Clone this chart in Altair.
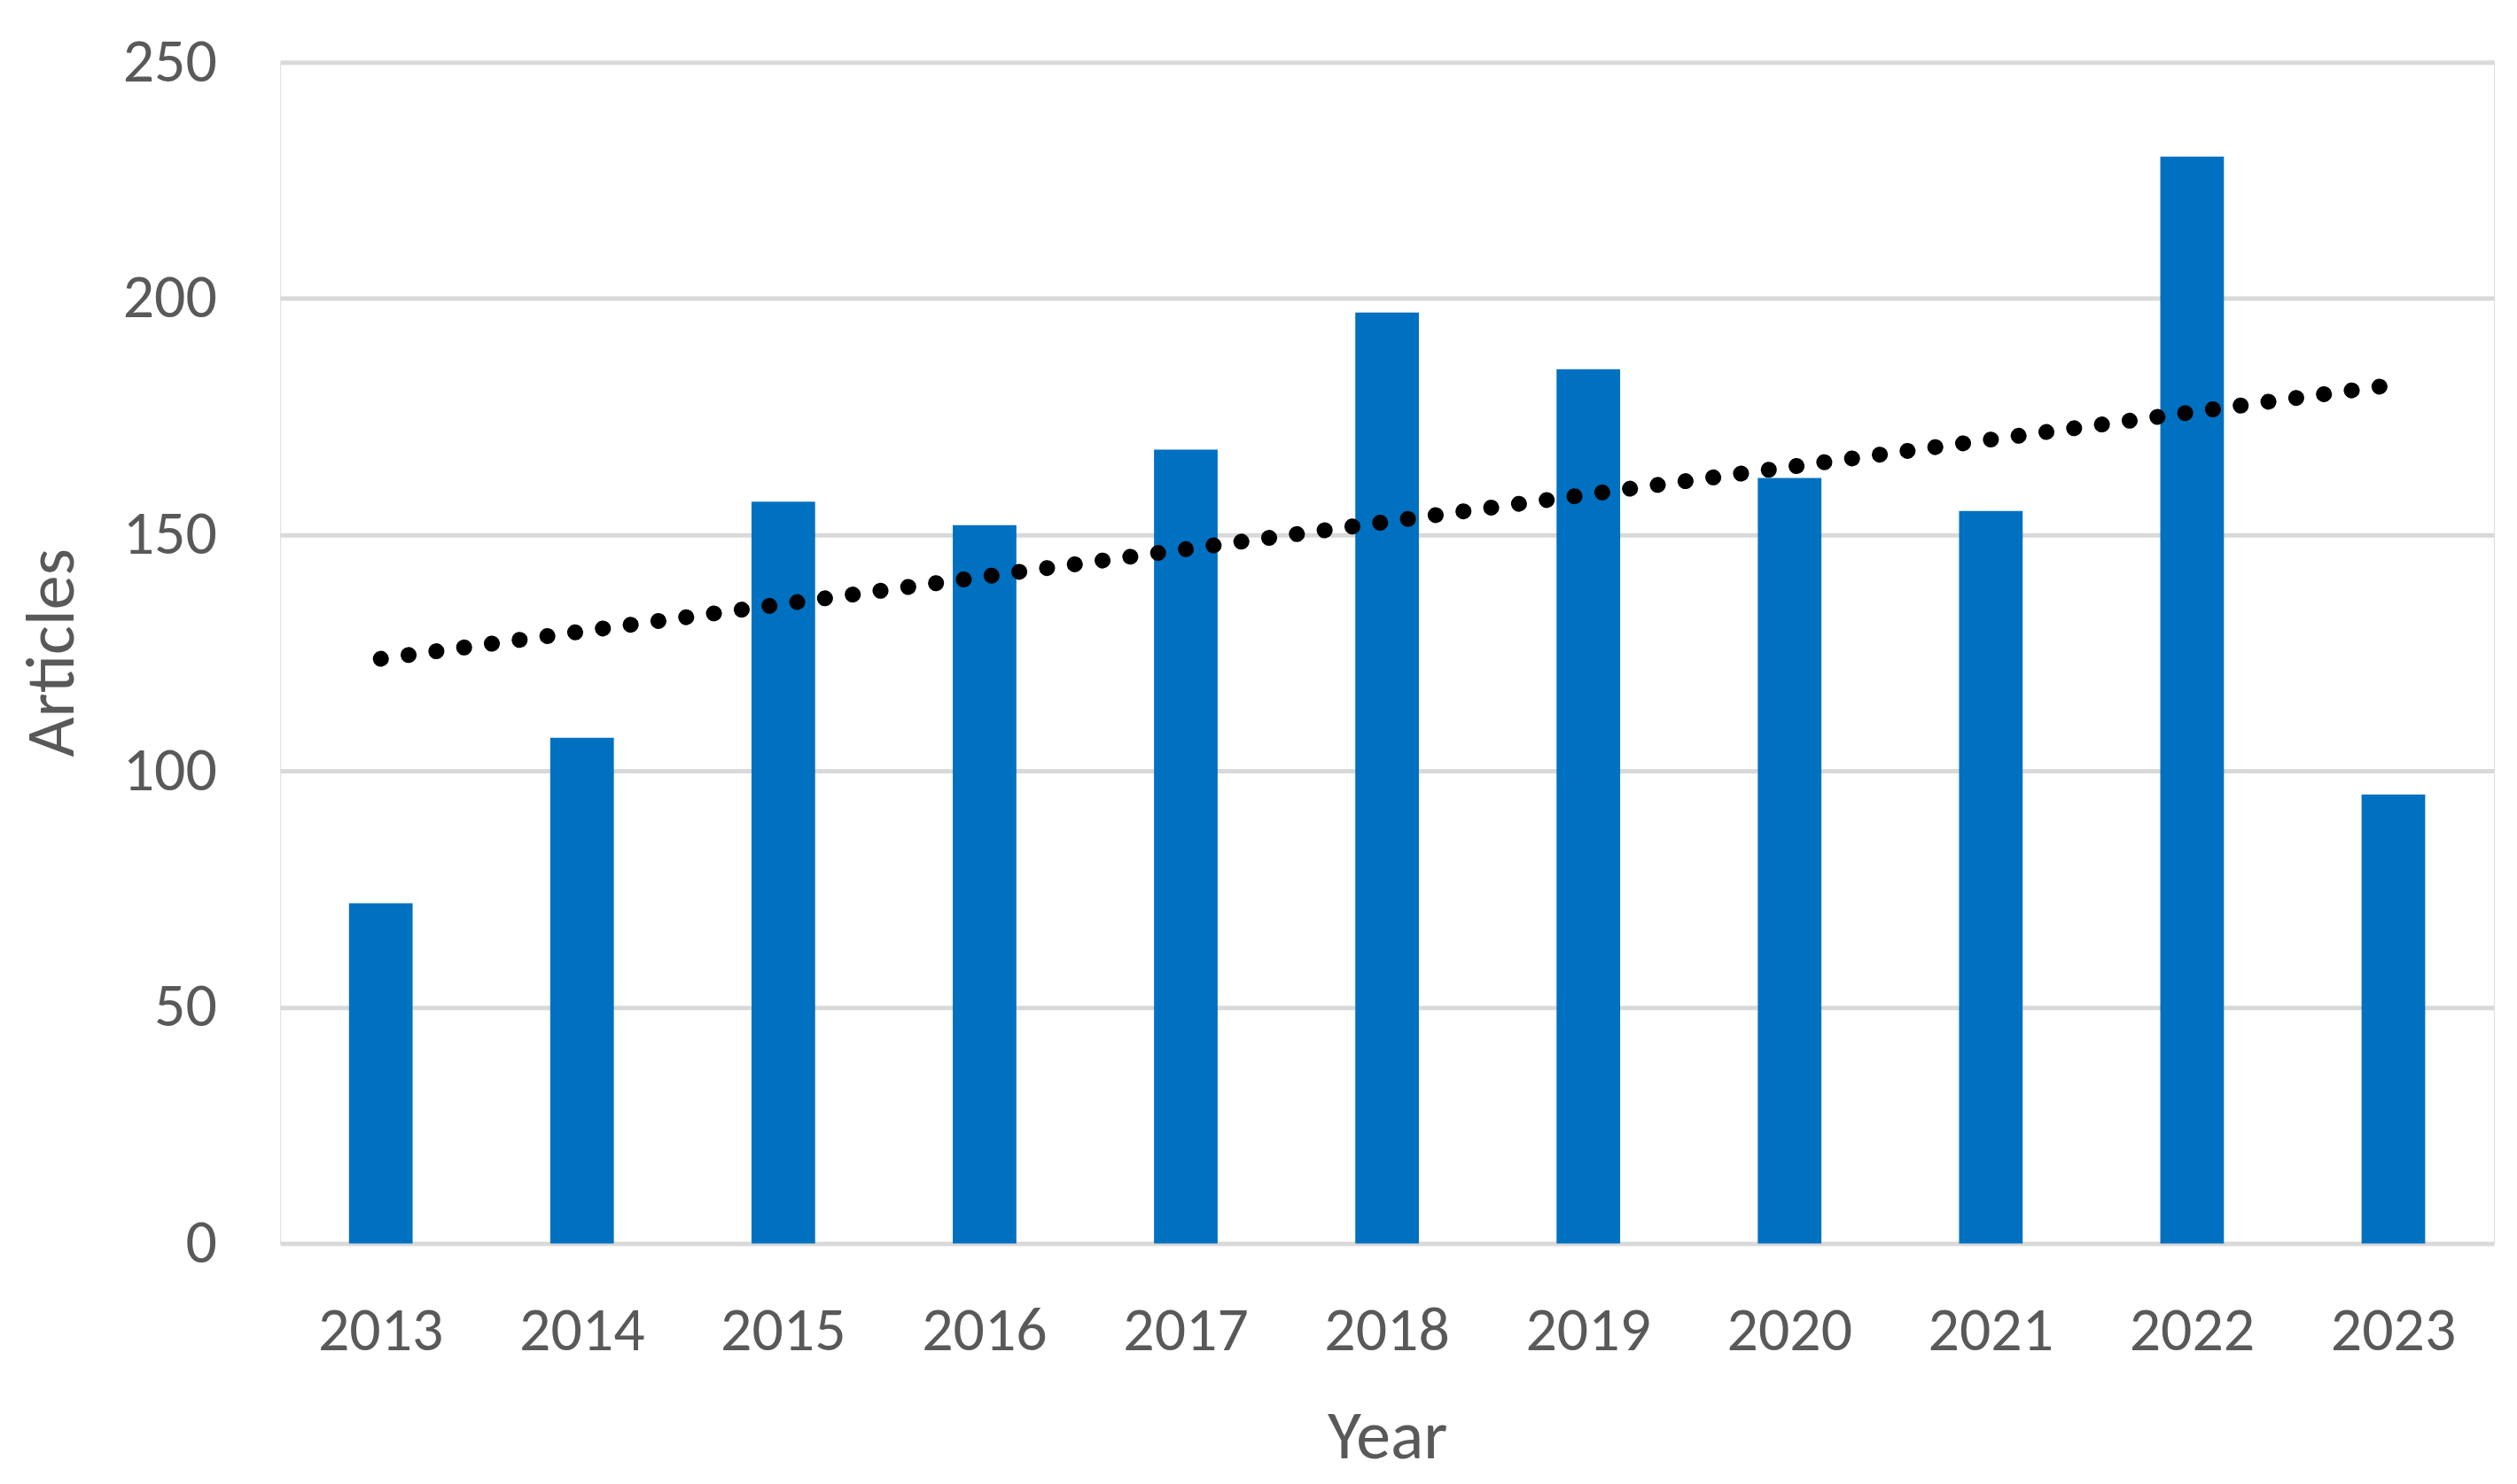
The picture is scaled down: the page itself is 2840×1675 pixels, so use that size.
import altair as alt
import pandas as pd
import numpy as np

years = ["2013", "2014", "2015", "2016", "2017", "2018", "2019", "2020", "2021", "2022", "2023"]
articles = [72, 107, 157, 152, 168, 197, 185, 162, 155, 230, 95]
y_ticks = [0, 50, 100, 150, 200, 250]

df = pd.DataFrame({"Year": years, "Articles": articles})

# linear trendline (least squares) computed from the data
idx = np.arange(1, len(years) + 1)
slope, intercept = np.polyfit(idx, np.array(articles, dtype=float), 1)
trend = pd.DataFrame({"Year": years, "Trend": intercept + slope * idx})

FONT = "Carlito, Calibri, Lato, sans-serif"
TXT = "#595959"
LBL = 70
TTL = 78

x_enc = alt.X(
    "Year:O",
    sort=years,
    scale=alt.Scale(paddingInner=0.684, paddingOuter=0.342),
    axis=alt.Axis(
        title="Year",
        labelAngle=0,
        labelFont=FONT,
        labelFontSize=LBL,
        labelColor=TXT,
        labelBaseline="alphabetic",
        labelPadding=120,
        ticks=False,
        domain=False,
        titleFont=FONT,
        titleFontSize=TTL,
        titleFontWeight="normal",
        titleColor=TXT,
        titleBaseline="alphabetic",
        titleY=243,
    ),
)

y_scale = alt.Scale(domain=[0, 250], nice=False)

bars = alt.Chart(df).mark_bar(color="#0070C0").encode(
    x=x_enc,
    y=alt.Y(
        "Articles:Q",
        scale=y_scale,
        axis=alt.Axis(
            title="Articles",
            values=y_ticks,
            labelFont=FONT,
            labelFontSize=LBL,
            labelColor=TXT,
            labelPadding=72,
            ticks=False,
            domain=False,
            grid=True,
            gridColor="#D9D9D9",
            gridWidth=5,
            titleFont=FONT,
            titleFontSize=TTL,
            titleFontWeight="normal",
            titleColor=TXT,
            titleBaseline="alphabetic",
            titleAngle=-90,
            titleX=-234,
            titleY=668,
        ),
    ),
)

line = alt.Chart(trend).mark_line(
    color="black",
    strokeWidth=18,
    strokeDash=[0.1, 31.6],
    strokeCap="round",
).encode(
    x=alt.X("Year:O", sort=years),
    y=alt.Y("Trend:Q", scale=y_scale),
)

chart = (
    alt.layer(bars, line)
    .properties(
        width=2505,
        height=1337,
        autosize=alt.AutoSizeParams(type="none"),
        padding={"left": 309, "top": 60, "right": 18, "bottom": 262},
    )
    .configure_view(stroke=None)
    .configure(background="white")
)

chart.save("out.html", embed_options={"renderer": "svg", "actions": False})
